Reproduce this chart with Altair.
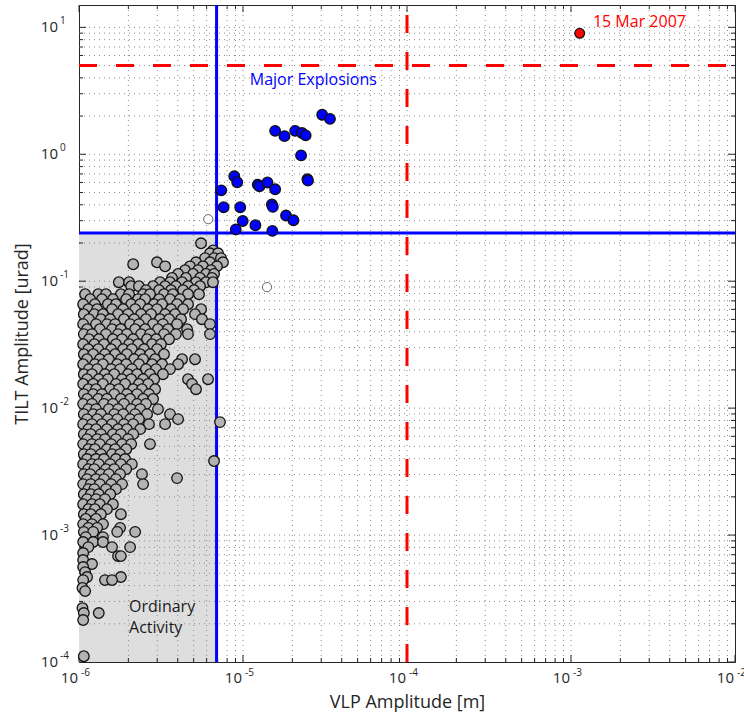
import altair as alt
import pandas as pd

# ---------------- data ----------------
# Ordinary activity (grey): rows of (TILT amplitude [urad], [VLP amplitudes in micrometres])
ORD_ROWS = [
    (0.199, [5.55]),
    (0.175, [6.56]),
    (0.166, [6.29, 7.04]),
    (0.152, [5.87, 6.66, 7.34]),
    (0.141, [2.99, 5.17, 6.29, 7.55]),
    (0.136, [2.14]),
    (0.131, [3.35, 4.75, 5.70, 6.94]),
    (0.122, [4.43, 5.32, 6.38]),
    (0.114, [4.02, 4.96, 5.95, 6.66]),
    (0.106, [3.69, 4.49, 5.47, 6.47]),
    (0.0982, [1.75, 2.02, 3.12, 3.59, 4.25, 5.17, 5.95, 6.56]),
    (0.0913, [2.08, 2.32, 2.83, 3.35, 3.90, 4.62, 5.47]),
    (0.0849, [2.56, 3.08, 3.64, 4.31, 5.03]),
    (0.0790, [1.09, 1.31, 1.46, 1.80, 2.02, 2.46, 2.71, 3.30, 3.74, 4.62, 5.39]),
    (0.0722, [1.17, 1.38, 1.61, 1.94, 2.29, 2.53, 3.08, 3.59, 4.13]),
    (0.0659, [1.06, 1.25, 1.50, 1.68, 2.08, 2.36, 2.87, 3.21, 3.96, 4.62]),
    (0.0602, [1.14, 1.29, 1.59, 1.86, 2.20, 2.64, 2.99, 3.64, 4.31, 5.55]),
    (0.0550, [1.07, 1.24, 1.40, 1.73, 1.99, 2.39, 2.75, 3.35, 3.85, 5.10]),
    (0.0502, [1.15, 1.36, 1.55, 1.88, 2.17, 2.56, 3.12, 3.54, 4.19, 5.62]),
    (0.0459, [1.06, 1.27, 1.48, 1.66, 2.05, 2.32, 2.83, 3.25, 3.96, 6.29]),
    (0.0419, [1.12, 1.34, 1.59, 1.80, 2.20, 2.53, 3.03, 3.49, 4.56]),
    (0.0383, [1.07, 1.20, 1.46, 1.73, 1.96, 2.39, 2.71, 3.30, 3.90, 4.62, 6.29]),
    (0.0349, [1.15, 1.32, 1.61, 1.83, 2.14, 2.60, 2.95, 3.54]),
    (0.0319, [1.06, 1.24, 1.42, 1.68, 2.02, 2.29, 2.79, 3.16]),
    (0.0291, [1.14, 1.31, 1.57, 1.86, 2.10, 2.49, 2.99]),
    (0.0266, [1.07, 1.22, 1.44, 1.66, 1.96, 2.36, 2.71, 3.30]),
    (0.0243, [1.12, 1.34, 1.52, 1.80, 2.17, 2.46, 2.91, 4.25, 5.10]),
    (0.0222, [1.06, 1.25, 1.40, 1.71, 1.94, 2.32, 2.79, 3.21, 4.02]),
    (0.0203, [1.15, 1.29, 1.57, 1.78, 2.10, 2.56, 2.95, 3.59]),
    (0.0185, [1.07, 1.20, 1.44, 1.64, 1.99, 2.26, 2.71, 3.25]),
    (0.0169, [1.12, 1.32, 1.50, 1.83, 2.08, 2.46, 2.87, 4.62, 6.12]),
    (0.0155, [1.06, 1.22, 1.40, 1.68, 1.91, 2.32, 2.64, 4.89]),
    (0.0141, [1.14, 1.27, 1.55, 1.75, 2.14, 2.42, 2.91, 5.17]),
    (0.0129, [1.07, 1.22, 1.38, 1.64, 1.96, 2.26, 2.67]),
    (0.0118, [1.12, 1.31, 1.48, 1.80, 2.05, 2.46, 2.83]),
    (0.0108, [1.06, 1.20, 1.42, 1.61, 1.88, 2.26, 2.56]),
    (0.00982, [1.14, 1.27, 1.52, 1.73, 2.08, 2.36, 3.03]),
    (0.00897, [1.07, 1.22, 1.36, 1.64, 1.86, 2.20, 2.60, 3.59]),
    (0.00819, [1.12, 1.29, 1.50, 1.71, 2.05, 2.32, 4.02]),
    (0.00776, [7.24]),
    (0.00748, [1.06, 1.20, 1.38, 1.59, 1.88, 2.14, 2.67, 3.35]),
    (0.00683, [1.14, 1.27, 1.48, 1.73, 1.96, 2.36]),
    (0.00624, [1.07, 1.18, 1.36, 1.61, 1.80, 2.14]),
    (0.00570, [1.12, 1.29, 1.44, 1.68, 1.99]),
    (0.00521, [1.06, 1.20, 1.34, 1.57, 1.83, 2.08, 2.71]),
    (0.00475, [1.14, 1.25, 1.48, 1.66, 1.94]),
    (0.00434, [1.07, 1.18, 1.36, 1.59, 1.78]),
    (0.00397, [1.12, 1.27, 1.42, 1.68, 1.91]),
    (0.00383, [6.66]),
    (0.00362, [1.06, 1.20, 1.32, 1.55, 1.80, 2.10]),
    (0.00331, [1.14, 1.24, 1.46, 1.64, 1.94]),
    (0.00302, [1.07, 1.17, 1.36, 1.52, 1.78, 2.42]),
    (0.00281, [3.96]),
    (0.00276, [1.12, 1.27, 1.42, 1.68]),
    (0.00252, [1.06, 1.18, 1.34, 1.57, 1.83, 2.46]),
    (0.00230, [1.14, 1.24, 1.46, 1.68]),
    (0.00210, [1.07, 1.18, 1.32, 1.55]),
    (0.00192, [1.12, 1.27, 1.44]),
    (0.00175, [1.06, 1.20, 1.34, 1.61]),
    (0.00160, [1.14, 1.25, 1.48]),
    (0.00146, [1.07, 1.18, 1.36, 1.80]),
    (0.00134, [1.10, 1.27]),
    (0.00122, [1.06, 1.20, 1.40]),
    (0.00114, [1.14, 1.29, 1.78]),
    (0.00106, [1.07, 1.22, 1.71, 2.20]),
    (0.000964, [1.10, 1.40]),
    (0.000881, [1.06, 1.22, 1.40]),
    (0.000804, [1.14, 1.59, 2.05]),
    (0.000722, [1.06]),
    (0.000683, [1.73, 1.80]),
    (0.000636, [1.06]),
    (0.000591, [1.20]),
    (0.000560, [1.06]),
    (0.000511, [1.09]),
    (0.000467, [1.12, 1.80]),
    (0.000442, [1.06, 1.44, 1.59]),
    (0.000383, [1.05]),
    (0.000362, [1.09]),
    (0.000266, [1.05]),
    (0.000243, [1.07, 1.32]),
    (0.000214, [1.06]),
    (0.000111, [1.07]),
]

# Major explosions (blue)
major_vlp = [3.04e-5, 3.39e-5, 1.57e-5, 1.79e-5, 2.08e-5, 2.29e-5, 2.41e-5, 2.26e-5,
             2.47e-5, 2.49e-5, 8.85e-6, 9.22e-6, 1.23e-5, 1.26e-5, 1.41e-5, 1.57e-5,
             7.37e-6, 7.62e-6, 9.62e-6, 1.50e-5, 1.52e-5, 1.83e-5, 2.03e-5, 9.96e-6,
             1.19e-5, 9.03e-6, 1.51e-5]
major_tilt = [2.05, 1.90, 1.53, 1.39, 1.53, 1.47, 1.41, 0.98,
              0.636, 0.62, 0.671, 0.602, 0.577, 0.560, 0.60, 0.53,
              0.52, 0.383, 0.383, 0.403, 0.385, 0.329, 0.302, 0.298,
              0.276, 0.256, 0.249]

# Unclassified (open circles)
open_vlp = [6.14e-6, 1.40e-5]
open_tilt = [0.308, 0.0898]

# 15 March 2007 paroxysm (red)
event_vlp = [1.13e-3]
event_tilt = [8.97]

# thresholds
blue_vlp, blue_tilt = 6.9e-6, 0.24
red_vlp, red_tilt = 1e-4, 5.0

# axes
x_domain = [1e-6, 1e-2]
y_domain = [1e-4, 15]
x_major = [1e-6, 1e-5, 1e-4, 1e-3, 1e-2]
x_exp = ["-6", "-5", "-4", "-3", "-2"]
y_major = [1e-4, 1e-3, 1e-2, 1e-1, 1e0, 1e1]
y_exp = ["-4", "-3", "-2", "-1", "0", "1"]
x_minor = [m * 10.0 ** e for e in range(-6, -2) for m in range(2, 10)]
y_minor = [m * 10.0 ** e for e in range(-4, 1) for m in range(2, 10)]

# annotations
ann_text = ["Major Explosions", "15 Mar 2007", "Ordinary", "Activity"]
ann_vlp = [1.10e-5, 1.36e-3, 2.02e-6, 2.02e-6]
ann_tilt = [3.5, 10.0, 2.48e-4, 1.69e-4]
ann_color = ["#0000ff", "#ff0000", "#1a1a1a", "#1a1a1a"]

# ---------------- build tables ----------------
ord_df = pd.DataFrame([(v * 1e-6, t) for t, vs in ORD_ROWS for v in vs], columns=["vlp", "tilt"])
major_df = pd.DataFrame({"vlp": major_vlp, "tilt": major_tilt})
open_df = pd.DataFrame({"vlp": open_vlp, "tilt": open_tilt})
event_df = pd.DataFrame({"vlp": event_vlp, "tilt": event_tilt})
ann_df = pd.DataFrame({"vlp": ann_vlp, "tilt": ann_tilt, "label": ann_text, "c": ann_color})
xmaj_df = pd.DataFrame({"vlp": x_major, "e": x_exp})
ymaj_df = pd.DataFrame({"tilt": y_major, "e": y_exp})
xgrid_df = pd.DataFrame({"vlp": [v for v in x_minor + x_major if x_domain[0] < v < x_domain[1]]})
ygrid_df = pd.DataFrame({"tilt": [v for v in y_minor + y_major if y_domain[0] < v < y_domain[1]]})
xmin_df = pd.DataFrame({"vlp": x_minor})
ymin_df = pd.DataFrame({"tilt": y_minor})
rect_df = pd.DataFrame({"vlp": [x_domain[0]], "vlp2": [blue_vlp], "tilt": [y_domain[0]], "tilt2": [blue_tilt]})
bluev_df = pd.DataFrame({"vlp": [blue_vlp]})
blueh_df = pd.DataFrame({"tilt": [blue_tilt]})
redv_df = pd.DataFrame({"vlp": [red_vlp]})
redh_df = pd.DataFrame({"tilt": [red_tilt]})

W, H = 656, 657
FONT = "Open Sans"
INK = "#262626"

xs = alt.Scale(type="log", domain=x_domain, nice=False)
ys = alt.Scale(type="log", domain=y_domain, nice=False)
xaxis = alt.Axis(title="VLP Amplitude [m]", labels=False, ticks=False, domain=False, grid=False,
                 titleFont=FONT, titleFontSize=18, titleFontWeight="normal", titleColor=INK,
                 titlePadding=31)
yaxis = alt.Axis(title="TILT Amplitude [urad]", labels=False, ticks=False, domain=False, grid=False,
                 titleFont=FONT, titleFontSize=18, titleFontWeight="normal", titleColor=INK,
                 titlePadding=48)
X = alt.X("vlp:Q", scale=xs, axis=xaxis)
Y = alt.Y("tilt:Q", scale=ys, axis=yaxis)

layers = []
# grey "ordinary activity" box
layers.append(alt.Chart(rect_df).mark_rect(color="#dedede").encode(x=X, x2="vlp2:Q", y=Y, y2="tilt2:Q"))
# dotted grid
grid_style = dict(color="#8c8c8c", strokeWidth=1, strokeDash=[1, 4])
layers.append(alt.Chart(xgrid_df).mark_rule(**grid_style).encode(x=X, y=alt.value(0), y2=alt.value(H)))
layers.append(alt.Chart(ygrid_df).mark_rule(**grid_style).encode(y=Y, x=alt.value(0), x2=alt.value(W)))
# inward ticks
tick_style = dict(color=INK, strokeWidth=1)
for df, ln in ((xmaj_df, 7), (xmin_df, 4)):
    layers.append(alt.Chart(df).mark_rule(**tick_style).encode(x=X, y=alt.value(H), y2=alt.value(H - ln)))
    layers.append(alt.Chart(df).mark_rule(**tick_style).encode(x=X, y=alt.value(0), y2=alt.value(ln)))
for df, ln in ((ymaj_df, 7), (ymin_df, 4)):
    layers.append(alt.Chart(df).mark_rule(**tick_style).encode(y=Y, x=alt.value(0), x2=alt.value(ln)))
    layers.append(alt.Chart(df).mark_rule(**tick_style).encode(y=Y, x=alt.value(W), x2=alt.value(W - ln)))
# threshold lines
layers.append(alt.Chart(bluev_df).mark_rule(color="#0000ff", strokeWidth=3).encode(x=X, y=alt.value(0), y2=alt.value(H)))
layers.append(alt.Chart(blueh_df).mark_rule(color="#0000ff", strokeWidth=3).encode(y=Y, x=alt.value(0), x2=alt.value(W)))
red_style = dict(color="#ff0000", strokeWidth=3, strokeDash=[18, 19])
layers.append(alt.Chart(redv_df).mark_rule(**red_style).encode(x=X, y=alt.value(H), y2=alt.value(0)))
layers.append(alt.Chart(redh_df).mark_rule(**red_style).encode(y=Y, x=alt.value(0), x2=alt.value(W)))
# points
pt = dict(shape="circle", size=112, strokeWidth=1.3, opacity=1)
layers.append(alt.Chart(ord_df).mark_point(filled=True, fill="#b3b3b3", stroke="#111111", **pt).encode(x=X, y=Y))
layers.append(alt.Chart(open_df).mark_point(filled=True, fill="#ffffff", stroke="#666666", shape="circle",
                                            size=85, strokeWidth=1, opacity=1).encode(x=X, y=Y))
layers.append(alt.Chart(major_df).mark_point(filled=True, fill="#0000ff", stroke="#111111", **pt).encode(x=X, y=Y))
layers.append(alt.Chart(event_df).mark_point(filled=True, fill="#ff0000", stroke="#111111", shape="circle",
                                             size=95, strokeWidth=1.3, opacity=1).encode(x=X, y=Y))
# annotations
layers.append(alt.Chart(ann_df).mark_text(align="left", baseline="alphabetic", font=FONT, fontSize=16).encode(
    x=X, y=Y, text="label:N", color=alt.Color("c:N", scale=None)))
# tick labels: "10" with superscript exponent
layers.append(alt.Chart(xmaj_df).mark_text(align="right", baseline="alphabetic", font=FONT, fontSize=15,
                                           dx=-1, color=INK).encode(x=X, y=alt.value(H + 21), text=alt.value("10")))
layers.append(alt.Chart(xmaj_df).mark_text(align="left", baseline="alphabetic", font=FONT, fontSize=10,
                                           dx=2, color=INK).encode(x=X, y=alt.value(H + 14), text="e:N"))
layers.append(alt.Chart(ymaj_df).mark_text(align="right", baseline="middle", font=FONT, fontSize=15,
                                           color=INK).encode(y=Y, x=alt.value(-21), text=alt.value("10")))
layers.append(alt.Chart(ymaj_df).mark_text(align="left", baseline="middle", font=FONT, fontSize=10,
                                           dy=-6, color=INK).encode(y=Y, x=alt.value(-19), text="e:N"))

chart = alt.layer(*layers).properties(
    width=W, height=H,
    padding={"left": 79, "top": 5, "right": 9, "bottom": 53},
    autosize=alt.AutoSizeParams(type="none"),
).configure_view(stroke=INK, strokeWidth=1)

chart.save("out.html", embed_options={"renderer": "svg", "actions": False})
